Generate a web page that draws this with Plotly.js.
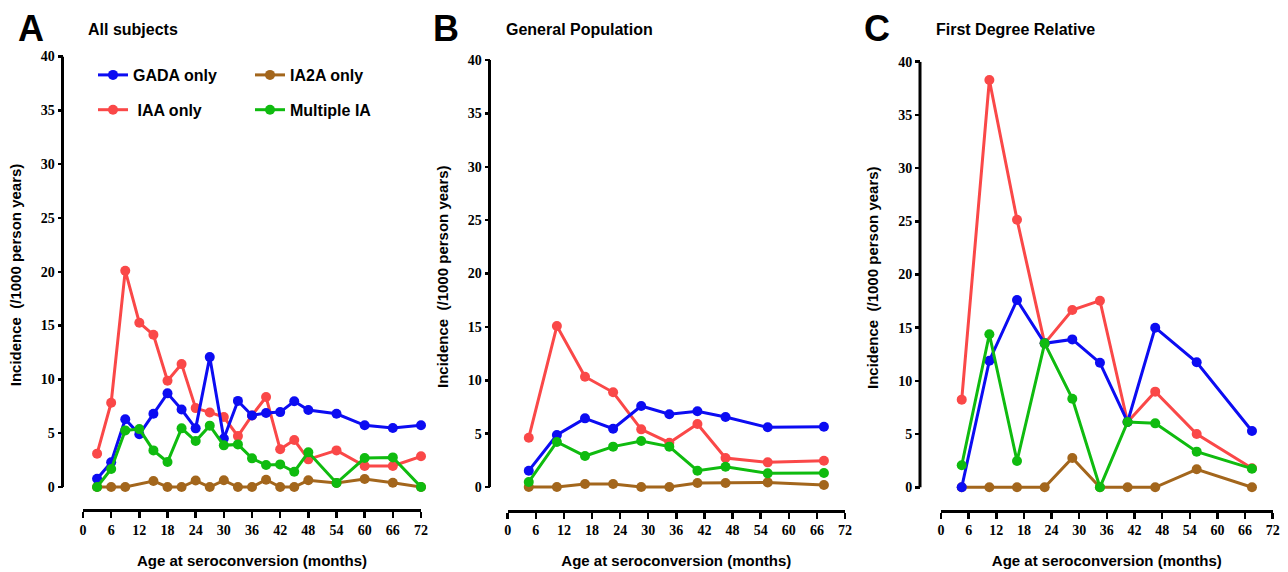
<!DOCTYPE html>
<html>
<head>
<meta charset="utf-8">
<script src="https://cdn.plot.ly/plotly-3.0.1.min.js"></script>
<style>html,body{margin:0;padding:0;background:#fff;}#chart{width:1288px;height:572px;}</style>
</head>
<body>
<div id="chart"></div>
<script>
// ---------- data ----------
const seriesNames = ["GADA only", "IAA only", "IA2A only", "Multiple IA"];
const xTicks = [0, 6, 12, 18, 24, 30, 36, 42, 48, 54, 60, 66, 72];
const yTicks = [0, 5, 10, 15, 20, 25, 30, 35, 40];

// Panel A: All subjects
const monthsA = [3, 6, 9, 12, 15, 18, 21, 24, 27, 30, 33, 36, 39, 42, 45, 48, 54, 60, 66, 72];
const monthsA_ia2a = [3, 6, 9, 15, 18, 21, 24, 27, 30, 33, 36, 39, 42, 45, 48, 54, 60, 66, 72];
const gadaA = [0.77, 2.3, 6.3, 4.9, 6.8, 8.7, 7.2, 5.45, 12.07, 4.5, 8.0, 6.65, 6.87, 6.96, 7.96, 7.15, 6.8, 5.73, 5.48, 5.73];
const iaaA = [3.1, 7.83, 20.1, 15.26, 14.14, 9.87, 11.42, 7.33, 6.93, 6.5, 4.73, 6.65, 8.36, 3.5, 4.36, 2.57, 3.4, 1.95, 1.95, 2.85];
const ia2aA = [0, 0, 0, 0.56, 0, 0, 0.6, 0, 0.62, 0, 0, 0.68, 0, 0, 0.62, 0.37, 0.74, 0.4, 0];
const multA = [0, 1.67, 5.26, 5.38, 3.4, 2.32, 5.45, 4.27, 5.7, 3.87, 3.96, 2.66, 2.04, 2.1, 1.42, 3.22, 0.37, 2.69, 2.75, 0];

// Panel B: General Population
const monthsB = [4.5, 10.5, 16.5, 22.5, 28.5, 34.5, 40.5, 46.5, 55.5, 67.5];
const gadaB = [1.53, 4.87, 6.43, 5.46, 7.59, 6.81, 7.09, 6.56, 5.59, 5.65];
const iaaB = [4.62, 15.08, 10.33, 8.87, 5.4, 4.15, 5.9, 2.72, 2.31, 2.46];
const ia2aB = [0, 0, 0.28, 0.28, 0, 0, 0.37, 0.37, 0.43, 0.19];
const multB = [0.47, 4.22, 2.9, 3.78, 4.31, 3.78, 1.53, 1.9, 1.28, 1.31];

// Panel C: First Degree Relative
const monthsC = [4.5, 10.5, 16.5, 22.5, 28.5, 34.5, 40.5, 46.5, 55.5, 67.5];
const gadaC = [0, 11.9, 17.6, 13.53, 13.9, 11.7, 6.14, 15.0, 11.75, 5.29];
const iaaC = [8.24, 38.28, 25.15, 13.53, 16.66, 17.54, 6.14, 8.99, 5.01, 1.79];
const ia2aC = [0, 0, 0, 0, 2.76, 0, 0, 0, 1.69, 0];
const multC = [2.07, 14.38, 2.47, 13.53, 8.33, 0, 6.14, 6.01, 3.35, 1.75];

const panelTitles = ["All subjects", "General Population", "First Degree Relative"];
const panelLetters = ["A", "B", "C"];
const xTitle = "Age at seroconversion (months)";
const yTitle = "Incidence\u00a0\u00a0(/1000 person years)";

// ---------- styling ----------
const W = 1288, H = 572;
const colors = {gada: "#0c0cf2", iaa: "#fa4848", ia2a: "#a3661c", mult: "#0fbb0f"};
const px = v => v / W;
const py = v => 1 - v / H;

// panel geometry in pixels
const geo = [
  {x0: 83, x1: 421, y0: 487, y40: 56.5, yPos: 62.5, xPos: 510},
  {x0: 507.7, x1: 845, y0: 487, y40: 60, yPos: 489.5, xPos: 510.5},
  {x0: 941, x1: 1272.7, y0: 487.3, y40: 61.7, yPos: 920, xPos: 510.5}
];
const yLow = -0.6;

const tickFont = {family: "Liberation Serif, Times New Roman, serif", size: 14, color: "#000", weight: "bold"};
const titleFont = {family: "Liberation Sans, Arial, sans-serif", size: 15, color: "#000", weight: "bold"};
const legendFont = {family: "Liberation Sans, Arial, sans-serif", size: 16, color: "#000", weight: "bold"};

const panels = [
  {months: monthsA, monthsIa2a: monthsA_ia2a, gada: gadaA, iaa: iaaA, ia2a: ia2aA, mult: multA},
  {months: monthsB, monthsIa2a: monthsB, gada: gadaB, iaa: iaaB, ia2a: ia2aB, mult: multB},
  {months: monthsC, monthsIa2a: monthsC, gada: gadaC, iaa: iaaC, ia2a: ia2aC, mult: multC}
];

const traces = [];
const layout = {
  width: W, height: H,
  margin: {l: 0, r: 0, t: 0, b: 0},
  paper_bgcolor: "#fff", plot_bgcolor: "rgba(0,0,0,0)",
  showlegend: true,
  legend: {
    x: px(93), y: py(58), xanchor: "left", yanchor: "top",
    bgcolor: "rgba(0,0,0,0)", tracegroupgap: 11, itemwidth: 30, font: legendFont
  },
  legend2: {
    x: px(250), y: py(58), xanchor: "left", yanchor: "top",
    bgcolor: "rgba(0,0,0,0)", tracegroupgap: 11, itemwidth: 30, font: legendFont
  },
  annotations: [],
  shapes: []
};

panels.forEach((p, i) => {
  const n = i === 0 ? "" : String(i + 1);
  const xa = "x" + n, ya = "y" + n;
  const g = geo[i];
  const first = i === 0;
  const common = {xaxis: xa, yaxis: ya, mode: "lines+markers", cliponaxis: false};
  // draw order: IA2A, IAA, GADA, Multiple
  traces.push(Object.assign({}, common, {x: p.monthsIa2a, y: p.ia2a, name: seriesNames[2],
    line: {width: 3, color: colors.ia2a}, marker: {size: 10, color: colors.ia2a},
    showlegend: first, legend: "legend2", legendgroup: "ia2a", legendrank: 1}));
  traces.push(Object.assign({}, common, {x: p.months, y: p.iaa, name: "\u00a0" + seriesNames[1],
    line: {width: 3, color: colors.iaa}, marker: {size: 10, color: colors.iaa},
    showlegend: first, legend: "legend", legendgroup: "iaa", legendrank: 2}));
  traces.push(Object.assign({}, common, {x: p.months, y: p.gada, name: seriesNames[0],
    line: {width: 3, color: colors.gada}, marker: {size: 10, color: colors.gada},
    showlegend: first, legend: "legend", legendgroup: "gada", legendrank: 1}));
  traces.push(Object.assign({}, common, {x: p.months, y: p.mult, name: seriesNames[3],
    line: {width: 3, color: colors.mult}, marker: {size: 10, color: colors.mult},
    showlegend: first, legend: "legend2", legendgroup: "mult", legendrank: 2}));

  const pxPerUnit = (g.y0 - g.y40) / 40;
  const yBottomPx = g.y0 - yLow * pxPerUnit;
  layout["xaxis" + n] = {
    domain: [px(g.x0), px(g.x1)], range: [0, 72], anchor: "free", position: py(g.xPos),
    tickmode: "array", tickvals: xTicks, ticktext: xTicks.map(t => "<b>" + t + "</b>"),
    ticks: "outside", ticklen: 6, tickwidth: 2.5, tickcolor: "#000",
    showline: true, linewidth: 3, linecolor: "#000", showgrid: false, zeroline: false,
    tickfont: tickFont, fixedrange: true,
    title: {text: xTitle, font: titleFont, standoff: 18}
  };
  layout["yaxis" + n] = {
    domain: [py(yBottomPx), py(g.y40)], range: [yLow, 40], anchor: "free", position: px(g.yPos),
    tickmode: "array", tickvals: yTicks, ticktext: yTicks.map(t => "<b>" + t + "</b>"),
    ticks: "outside", ticklen: 5, tickwidth: 2.5, tickcolor: "#000",
    showline: false, showgrid: false, zeroline: false,
    tickfont: tickFont, fixedrange: true,
    title: {text: yTitle, font: titleFont, standoff: 14}
  };
  // y axis line from 0 to 40
  layout.shapes.push({type: "line", xref: "paper", yref: ya, x0: px(g.yPos), x1: px(g.yPos),
    y0: 0, y1: 40, line: {color: "#000", width: 3}});
});

const letterX = [16, 431, 862];
const titleX = [86, 504, 934];
panelLetters.forEach((L, i) => {
  layout.annotations.push({text: L, xref: "paper", yref: "paper", x: px(letterX[i]), y: py(28),
    xanchor: "left", yanchor: "middle", showarrow: false,
    font: {family: "Liberation Sans, Arial, sans-serif", size: 36, color: "#000", weight: "bold"}});
  layout.annotations.push({text: panelTitles[i], xref: "paper", yref: "paper", x: px(titleX[i]), y: py(29),
    xanchor: "left", yanchor: "middle", showarrow: false,
    font: {family: "Liberation Sans, Arial, sans-serif", size: 16, color: "#000", weight: "bold"}});
});

Plotly.newPlot("chart", traces, layout, {displayModeBar: false, staticPlot: true});
</script>
</body>
</html>
